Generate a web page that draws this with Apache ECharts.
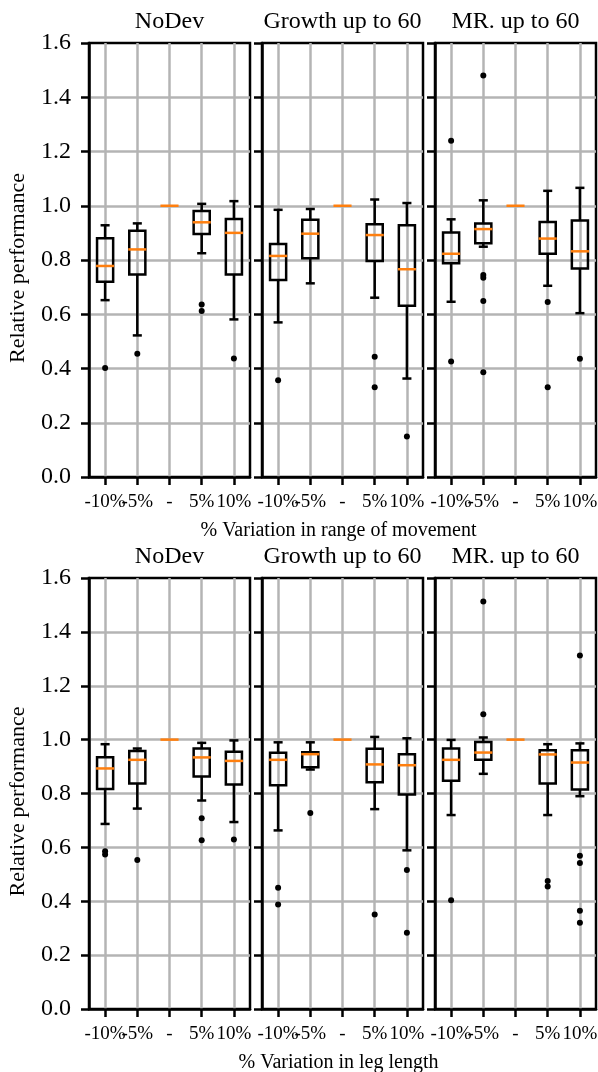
<!DOCTYPE html>
<html>
<head>
<meta charset="utf-8">
<title>Relative performance</title>
<script src="https://cdn.jsdelivr.net/npm/echarts@6/dist/echarts.min.js"></script>
<style>
	html, body { margin: 0; padding: 0; background: #fff; }
	#chart { width: 598px; height: 1072px; }
</style>
</head>
<body>
<div id="chart"></div>
<script>
// categories on every x axis
var categories = ['-10%', '-5%', '-', '5%', '10%'];
var panelTitles = ['NoDev', 'Growth up to 60', 'MR. up to 60'];
var rowLabels = ['% Variation in range of movement', '% Variation in leg length'];
var yTitle = 'Relative performance';

// boxes: [whisker low, q1, median, q3, whisker high] per category
// outliers: [category index, value]
var rangeNoDevBox = [[0.652, 0.720, 0.778, 0.880, 0.928], [0.522, 0.747, 0.839, 0.908, 0.935], [1, 1, 1, 1, 1], [0.825, 0.896, 0.939, 0.981, 1.007], [0.581, 0.747, 0.900, 0.951, 1.017]];
var rangeNoDevOut = [[0, 0.402], [1, 0.454], [3, 0.636], [3, 0.612], [4, 0.437]];
var rangeGrowthBox = [[0.570, 0.726, 0.815, 0.859, 0.985], [0.714, 0.806, 0.897, 0.948, 0.988], [1, 1, 1, 1, 1], [0.661, 0.796, 0.892, 0.932, 1.023], [0.363, 0.631, 0.766, 0.928, 1.010]];
var rangeGrowthOut = [[0, 0.357], [3, 0.443], [3, 0.331], [4, 0.149]];
var rangeMRBox = [[0.646, 0.788, 0.823, 0.901, 0.950], [0.849, 0.862, 0.914, 0.935, 1.020], [1, 1, 1, 1, 1], [0.705, 0.823, 0.879, 0.940, 1.055], [0.604, 0.769, 0.832, 0.946, 1.066]];
var rangeMROut = [[0, 1.240], [0, 0.426], [1, 1.480], [1, 0.745], [1, 0.735], [1, 0.649], [1, 0.386], [3, 0.645], [3, 0.331], [4, 0.436]];

var legNoDevBox = [[0.687, 0.817, 0.893, 0.935, 0.983], [0.744, 0.837, 0.925, 0.958, 0.967], [1, 1, 1, 1, 1], [0.774, 0.863, 0.934, 0.967, 0.988], [0.694, 0.833, 0.921, 0.955, 0.997]];
var legNoDevOut = [[0, 0.586], [0, 0.574], [1, 0.553], [3, 0.708], [3, 0.626], [4, 0.629]];
var legGrowthBox = [[0.663, 0.831, 0.925, 0.951, 0.990], [0.889, 0.897, 0.946, 0.953, 0.990], [1, 1, 1, 1, 1], [0.742, 0.842, 0.908, 0.966, 1.010], [0.589, 0.796, 0.905, 0.946, 1.005]];
var legGrowthOut = [[0, 0.450], [0, 0.388], [1, 0.728], [3, 0.351], [4, 0.516], [4, 0.283]];
var legMRBox = [[0.720, 0.847, 0.925, 0.967, 0.999], [0.873, 0.925, 0.952, 0.991, 1.008], [1, 1, 1, 1, 1], [0.720, 0.837, 0.945, 0.961, 0.983], [0.790, 0.815, 0.915, 0.961, 0.986]];
var legMROut = [[0, 0.404], [1, 1.513], [1, 1.094], [3, 0.475], [3, 0.455], [4, 1.312], [4, 0.569], [4, 0.542], [4, 0.365], [4, 0.320]];

var panels = [
	[rangeNoDevBox, rangeNoDevOut], [rangeGrowthBox, rangeGrowthOut], [rangeMRBox, rangeMROut],
	[legNoDevBox, legNoDevOut], [legGrowthBox, legGrowthOut], [legMRBox, legMROut]
];

// layout of the 2 x 3 panels
var panelLeft = [89, 262, 435];
var panelWidth = 161;
var rowTop = [43, 578];
var rowHeight = [434, 431];
var serif = '"Liberation Serif", "Times New Roman", serif';
var gridGray = '#b4b4b4';
var medianColor = '#ff7f0e';
var lw = 2.5;

/**
 * @desc 画一个箱线: whisker, caps, box and orange median
 */
var renderBox = function(params, api) {
	var x = api.value(0);
	var lo = api.coord([x, api.value(1)]);
	var q1 = api.coord([x, api.value(2)]);
	var md = api.coord([x, api.value(3)]);
	var q3 = api.coord([x, api.value(4)]);
	var hi = api.coord([x, api.value(5)]);
	var band = api.size([1, 0])[0];
	var bw = band * 0.5,
		cw = bw / 2,
		cx = md[0];
	var black = { stroke: '#000', lineWidth: lw, fill: null };
	var children = [];
	if(hi[1] !== lo[1]) {
		children.push(
			{ type: 'line', shape: { x1: cx, y1: hi[1], x2: cx, y2: q3[1] }, style: black },
			{ type: 'line', shape: { x1: cx, y1: q1[1], x2: cx, y2: lo[1] }, style: black },
			{ type: 'line', shape: { x1: cx - cw / 2 - 0.5, y1: hi[1], x2: cx + cw / 2 + 0.5, y2: hi[1] }, style: black },
			{ type: 'line', shape: { x1: cx - cw / 2 - 0.5, y1: lo[1], x2: cx + cw / 2 + 0.5, y2: lo[1] }, style: black },
			{ type: 'rect', shape: { x: cx - bw / 2, y: q3[1], width: bw, height: q1[1] - q3[1] }, style: black }
		);
	}
	children.push({ type: 'line', shape: { x1: cx - bw / 2 - 1, y1: md[1], x2: cx + bw / 2 + 1, y2: md[1] }, style: { stroke: medianColor, lineWidth: lw } });
	return { type: 'group', children: children };
};

var grids = [], xAxes = [], yAxes = [], series = [], graphics = [];
for(var i = 0; i < 6; i++) {
	var row = Math.floor(i / 3), col = i % 3;
	grids.push({
		left: panelLeft[col],
		top: rowTop[row],
		width: panelWidth,
		height: rowHeight[row],
		show: true,
		borderColor: '#000',
		borderWidth: lw,
		backgroundColor: 'transparent',
		containLabel: false,
		outerBoundsMode: 'none'
	});
	xAxes.push({
		type: 'category',
		gridIndex: i,
		data: categories,
		boundaryGap: true,
		axisLine: { show: true, lineStyle: { color: '#000', width: lw } },
		axisTick: { show: true, alignWithLabel: true, inside: false, length: 8, lineStyle: { color: '#000', width: lw } },
		axisLabel: { show: true, interval: 0, margin: 16, color: '#000', fontFamily: serif, fontSize: 19, hideOverlap: false },
		splitLine: { show: true, alignWithLabel: true, interval: 0, lineStyle: { color: gridGray, width: lw } }
	});
	yAxes.push({
		type: 'value',
		gridIndex: i,
		min: 0,
		max: 1.6,
		interval: 0.2,
		axisLine: { show: true, lineStyle: { color: '#000', width: lw } },
		axisTick: { show: true, inside: false, length: 8, lineStyle: { color: '#000', width: lw } },
		axisLabel: {
			show: col === 0,
			margin: 18,
			color: '#000',
			fontFamily: serif,
			fontSize: 24,
			formatter: function(v) { return v.toFixed(1); }
		},
		splitLine: { show: true, showMaxLine: false, showMinLine: false, lineStyle: { color: gridGray, width: lw } }
	});
	series.push({
		type: 'custom',
		xAxisIndex: i,
		yAxisIndex: i,
		renderItem: renderBox,
		encode: { x: 0, y: [1, 2, 3, 4, 5] },
		data: panels[i][0].map(function(b, k) { return [k].concat(b); }),
		z: 5,
		silent: true
	});
	series.push({
		type: 'scatter',
		xAxisIndex: i,
		yAxisIndex: i,
		symbol: 'circle',
		symbolSize: 6,
		itemStyle: { color: '#000', opacity: 1 },
		data: panels[i][1],
		z: 6,
		silent: true
	});
	// panel titles
	graphics.push({
		type: 'text',
		x: panelLeft[col] + panelWidth / 2,
		y: rowTop[row] - 21,
		style: { text: panelTitles[col], font: '24px ' + serif, fill: '#000', align: 'center', verticalAlign: 'middle', textAlign: 'center', textVerticalAlign: 'middle' }
	});
}
for(var r = 0; r < 2; r++) {
	// row x-axis title, centred under the middle panel
	graphics.push({
		type: 'text',
		x: panelLeft[1] + panelWidth / 2 - 4,
		y: rowTop[r] + rowHeight[r] + 54,
		style: { text: rowLabels[r], font: '20px ' + serif, fill: '#000', align: 'center', verticalAlign: 'middle', textAlign: 'center', textVerticalAlign: 'middle' }
	});
	// y-axis title
	graphics.push({
		type: 'text',
		x: 18,
		y: rowTop[r] + rowHeight[r] / 2 + 8,
		rotation: Math.PI / 2,
		style: { text: yTitle, font: '22px ' + serif, fill: '#000', align: 'center', verticalAlign: 'middle', textAlign: 'center', textVerticalAlign: 'middle' }
	});
}

var chart = echarts.init(document.getElementById('chart'), null, { renderer: 'canvas' });
chart.setOption({
	animation: false,
	backgroundColor: '#fff',
	grid: grids,
	xAxis: xAxes,
	yAxis: yAxes,
	series: series,
	graphic: graphics
});
</script>
</body>
</html>
